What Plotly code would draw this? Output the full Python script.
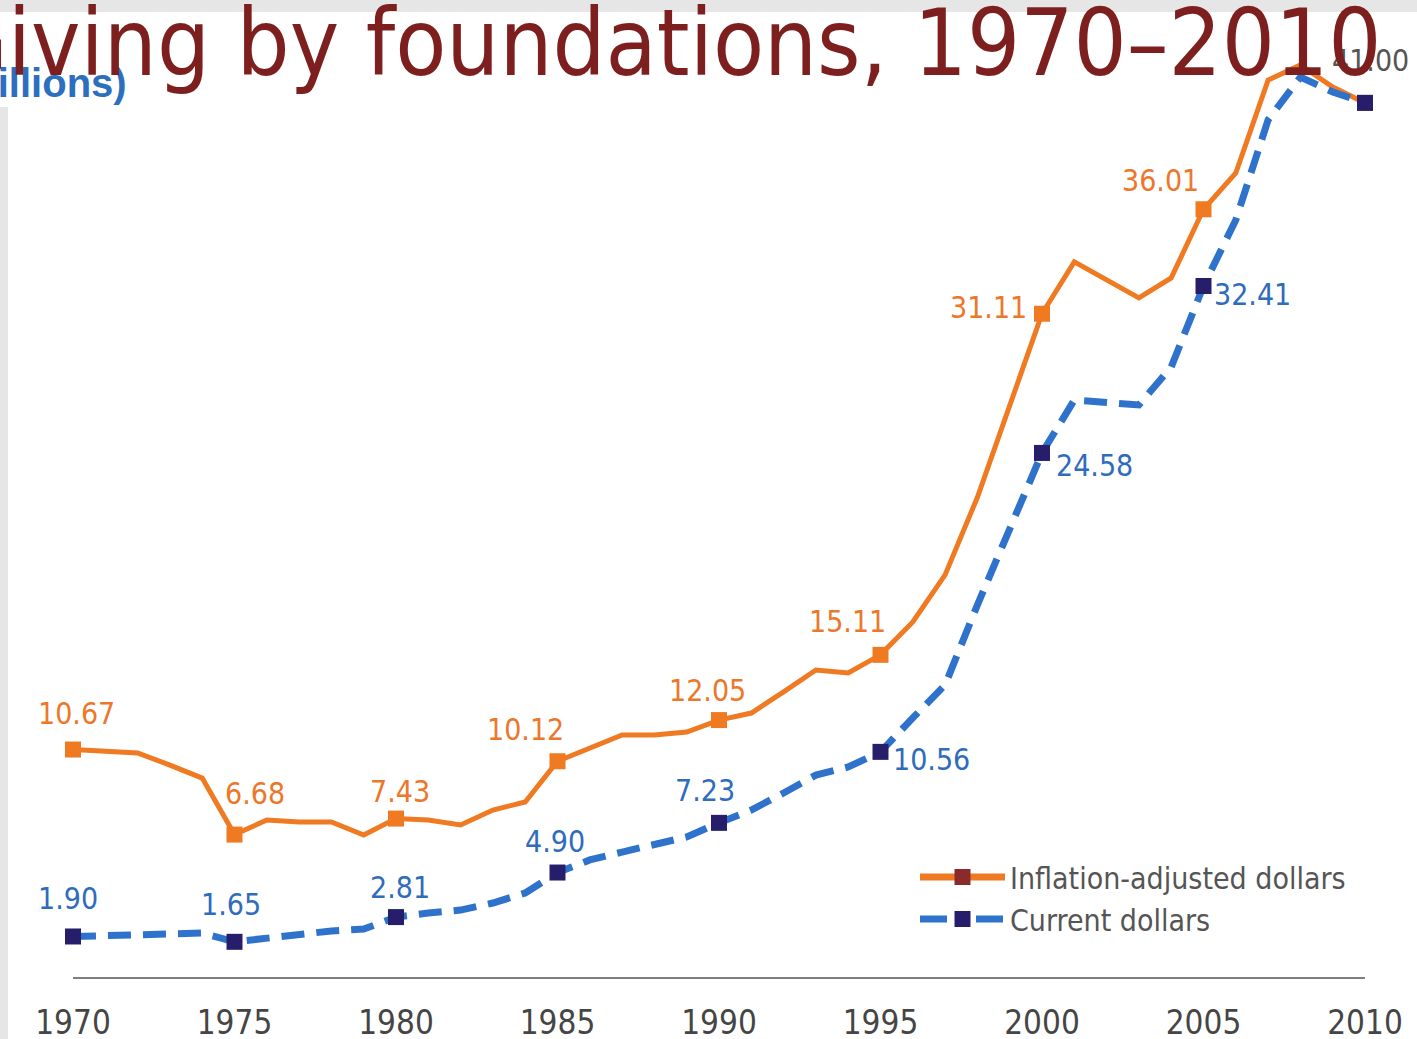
import plotly.graph_objects as go

# ---- data ----
years = list(range(1970, 2011))
inflation_adjusted = [10.67, 10.60, 10.51, 9.94, 9.33, 6.68, 7.36, 7.27, 7.27, 6.66,
                      7.43, 7.36, 7.13, 7.83, 8.21, 10.12, 10.74, 11.35, 11.35, 11.49,
                      12.05, 12.38, 13.37, 14.40, 14.26, 15.11, 16.65, 18.86, 22.50, 26.83,
                      31.11, 33.54, 32.69, 31.85, 32.79, 36.01, 37.71, 42.07, 42.78, 41.74,
                      41.00]
current_dollars = [1.90, 1.92, 1.97, 2.01, 2.06, 1.65, 1.83, 1.97, 2.16, 2.25,
                   2.81, 3.00, 3.14, 3.47, 3.94, 4.90, 5.49, 5.86, 6.19, 6.57,
                   7.23, 7.83, 8.63, 9.47, 9.85, 10.56, 12.15, 13.70, 17.45, 21.06,
                   24.58, 27.06, 26.97, 26.83, 28.61, 32.41, 35.51, 40.20, 42.21, 41.51,
                   41.00]
tick_years = [1970, 1975, 1980, 1985, 1990, 1995, 2000, 2005, 2010]
title_text = "Giving by foundations, 1970–2010"
unit_text = "(billions)"
series_names = ["Inflation-adjusted dollars", "Current dollars"]

# ---- styling ----
W, H = 1417, 1039
ML, MR, MT, MB = 73, 52, 18, 62
PW, PH = W - ML - MR, H - MT - MB
YMAX = PH / 21.32

ORANGE = "#EF7A22"
ORANGE_TXT = "#EC772B"
BLUE = "#2F72CC"
BLUE_TXT = "#2E6CBD"
NAVY = "#261E6A"
DARKRED = "#8A2A2A"
TITLE_RED = "#7E1F1F"
NARROW = "DejaVu Sans Condensed, Liberation Sans Narrow, sans-serif"


def px_x(p):
    return (p - ML) / PW


def px_y(p):
    return (H - MB - p) / PH


mark_idx = [i for i, y in enumerate(years) if y % 5 == 0]

fig = go.Figure()

# lines
fig.add_trace(go.Scatter(x=years, y=inflation_adjusted, mode="lines",
                         line=dict(color=ORANGE, width=5),
                         showlegend=False, cliponaxis=False, hoverinfo="skip"))
fig.add_trace(go.Scatter(x=years, y=current_dollars, mode="lines",
                         line=dict(color=BLUE, width=7, dash="23px,12px"),
                         showlegend=False, cliponaxis=False, hoverinfo="skip"))
# markers
fig.add_trace(go.Scatter(x=[years[i] for i in mark_idx],
                         y=[inflation_adjusted[i] for i in mark_idx],
                         mode="markers", marker=dict(symbol="square", size=16, color=ORANGE),
                         showlegend=False, cliponaxis=False))
fig.add_trace(go.Scatter(x=[years[i] for i in mark_idx],
                         y=[current_dollars[i] for i in mark_idx],
                         mode="markers", marker=dict(symbol="square", size=16, color=NAVY),
                         showlegend=False, cliponaxis=False))

# legend entries
fig.add_trace(go.Scatter(x=[None], y=[None], mode="lines+markers", name=series_names[0],
                         line=dict(color=ORANGE, width=7),
                         marker=dict(symbol="square", size=18, color=DARKRED)))
fig.add_trace(go.Scatter(x=[None], y=[None], mode="lines+markers", name=series_names[1],
                         line=dict(color=BLUE, width=7, dash="27px,29px"),
                         marker=dict(symbol="square", size=18, color=NAVY)))

# value labels (offsets in px relative to marker)
orange_off = {1970: (3, -36), 1975: (20, -41), 1980: (4, -27), 1985: (-32, -32),
              1990: (-12, -30), 1995: (-33, -33), 2000: (-54, -6), 2005: (-43, -29)}
blue_off = {1970: (-5, -38), 1975: (-4, -37), 1980: (4, -30), 1985: (-3, -31),
            1990: (-14, -32), 1995: (51, 8), 2000: (52, 13), 2005: (49, 8)}

LBL = 30
annotations = []
for i in mark_idx:
    yr = years[i]
    if yr in orange_off:
        dx, dy = orange_off[yr]
        annotations.append(dict(x=yr, y=inflation_adjusted[i], xref="x", yref="y",
                                text=f"{inflation_adjusted[i]:.2f}", showarrow=False,
                                xshift=dx, yshift=-dy,
                                font=dict(family=NARROW, size=LBL, color=ORANGE_TXT)))
    if yr in blue_off:
        dx, dy = blue_off[yr]
        annotations.append(dict(x=yr, y=current_dollars[i], xref="x", yref="y",
                                text=f"{current_dollars[i]:.2f}", showarrow=False,
                                xshift=dx, yshift=-dy,
                                font=dict(family=NARROW, size=LBL, color=BLUE_TXT)))
# final shared value
annotations.append(dict(x=years[-1], y=current_dollars[-1], xref="x", yref="y",
                        text=f"{current_dollars[-1]:.2f}", showarrow=False,
                        xshift=5, yshift=42,
                        font=dict(family=NARROW, size=LBL, color="#555555")))
# unit label
annotations.append(dict(x=px_x(129), y=px_y(83), xref="paper", yref="paper",
                        text=f"<b>{unit_text}</b>", showarrow=False,
                        xanchor="right", yanchor="middle",
                        font=dict(family="Liberation Sans, Arial, sans-serif", size=40, color="#2D6FBF")))
# title
annotations.append(dict(x=px_x(1383), y=px_y(43), xref="paper", yref="paper",
                        text=title_text, showarrow=False,
                        xanchor="right", yanchor="middle",
                        font=dict(family="DejaVu Sans Condensed, DejaVu Sans, sans-serif",
                                  size=93, color=TITLE_RED)))

shapes = [
    dict(type="rect", xref="paper", yref="paper", layer="below",
         x0=px_x(0), x1=px_x(W), y0=px_y(12), y1=px_y(0),
         fillcolor="#E6E6E6", line=dict(width=0)),
    dict(type="rect", xref="paper", yref="paper", layer="below",
         x0=px_x(0), x1=px_x(8), y0=px_y(H), y1=px_y(107),
         fillcolor="#E6E6E6", line=dict(width=0)),
]

fig.update_layout(
    width=W, height=H,
    margin=dict(l=ML, r=MR, t=MT, b=MB, autoexpand=False),
    paper_bgcolor="white", plot_bgcolor="white",
    xaxis=dict(range=[1970, 2010], tickvals=tick_years, ticktext=[str(t) for t in tick_years],
               showgrid=False, zeroline=False, showline=True, linecolor="#7F7F7F", linewidth=2,
               ticks="", ticklabelstandoff=15, automargin=False,
               tickfont=dict(family=NARROW, size=33, color="#454545")),
    yaxis=dict(range=[0, YMAX], visible=False, showgrid=False, zeroline=False),
    legend=dict(x=px_x(915), y=px_y(851), xanchor="left", yanchor="top",
                bgcolor="rgba(0,0,0,0)", itemwidth=85, tracegroupgap=0,
                font=dict(family=NARROW, size=30, color="#555555")),
    annotations=annotations,
    shapes=shapes,
    showlegend=True,
)

fig.write_html("out.html", config={"displayModeBar": False},
               post_script="document.body.style.margin='0';document.body.style.overflow='hidden';")
